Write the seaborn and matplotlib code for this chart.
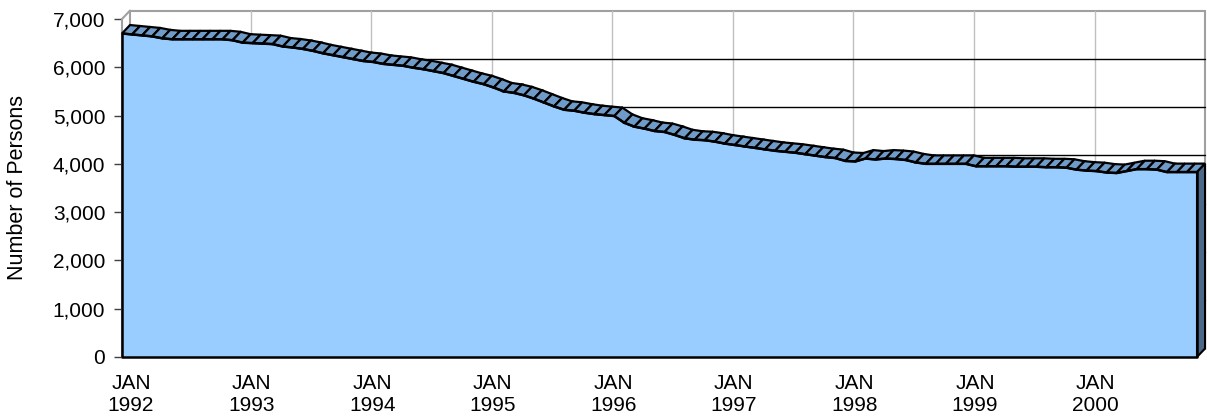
import numpy as np
import pandas as pd
import matplotlib.pyplot as plt
import seaborn as sns
from matplotlib.patches import Polygon, Rectangle

# monthly number of persons, Jan 1992 - Dec 2000
persons = [
    6700, 6680, 6660, 6640, 6600, 6580, 6580, 6580, 6580, 6580, 6580, 6560,  # 1992
    6510, 6500, 6490, 6480, 6430, 6410, 6380, 6340, 6290, 6250, 6210, 6170,  # 1993
    6130, 6110, 6070, 6050, 6030, 5990, 5960, 5920, 5880, 5820, 5760, 5700,  # 1994
    5650, 5580, 5500, 5470, 5420, 5350, 5270, 5190, 5120, 5100, 5060, 5030,  # 1995
    5010, 4990, 4850, 4770, 4730, 4680, 4660, 4600, 4530, 4500, 4490, 4460,  # 1996
    4420, 4390, 4360, 4330, 4300, 4270, 4250, 4230, 4200, 4170, 4140, 4120,  # 1997
    4060, 4050, 4110, 4090, 4110, 4100, 4080, 4030, 4000, 4000, 4000, 4000,  # 1998
    4000, 3950, 3950, 3950, 3950, 3940, 3940, 3940, 3930, 3930, 3920, 3880,  # 1999
    3860, 3850, 3820, 3810, 3850, 3890, 3890, 3880, 3830, 3830, 3830, 3830,  # 2000
]
years = [1992, 1993, 1994, 1995, 1996, 1997, 1998, 1999, 2000]
year_labels = ["JAN\n" + str(y) for y in years]
y_ticks = [0, 1000, 2000, 3000, 4000, 5000, 6000, 7000]

df = pd.DataFrame({"month": np.arange(len(persons)), "persons": persons})
n = len(persons) - 1

sns.set_style("white")
plt.rcParams["font.family"] = ["Liberation Sans", "DejaVu Sans"]
plt.rcParams["text.color"] = "black"
plt.rcParams["axes.labelcolor"] = "black"
plt.rcParams["xtick.labelcolor"] = "black"
plt.rcParams["ytick.labelcolor"] = "black"

fig = plt.figure(figsize=(12.07, 4.2), dpi=100)
ax = fig.add_axes([122 / 1207, 63 / 420, 1075 / 1207, 338 / 420])
ax.set_xlim(0, n)
ax.set_ylim(0, 7000)

# 3D depth offset (in data units)
dx, dy = 0.8, 175

# back wall with gridlines
ax.add_patch(Rectangle((dx, dy), n, 7000, facecolor="white", edgecolor="#a0a0a0",
                       lw=1.5, clip_on=False, zorder=0))
for k in range(1, len(years)):
    ax.plot([12 * k + dx] * 2, [dy, 7000 + dy], color="#c0c0c0", lw=1, clip_on=False, zorder=1)
for v in y_ticks[1:-1]:
    ax.plot([dx, n + dx], [v + dy] * 2, color="black", lw=1, clip_on=False, zorder=1)
    ax.plot([0, dx], [v, v + dy], color="black", lw=1, clip_on=False, zorder=1)
ax.plot([0, dx], [7000, 7000 + dy], color="#a0a0a0", lw=1.5, clip_on=False, zorder=1)

# front face of the area
ax.fill_between(df["month"], 0, df["persons"], color="#99ccff", lw=0, zorder=3)
sns.lineplot(data=df, x="month", y="persons", color="black", lw=1.8, ax=ax, zorder=5)
ax.plot([0, 0, n, n], [persons[0], 0, 0, persons[-1]],
        color="black", lw=1.8, clip_on=False, zorder=5)

# top ribbon (one quad per month)
for i in range(n):
    quad = [(i, persons[i]), (i + 1, persons[i + 1]),
            (i + 1 + dx, persons[i + 1] + dy), (i + dx, persons[i] + dy)]
    ax.add_patch(Polygon(quad, facecolor="#6f9bc9", edgecolor="black", lw=1.6,
                         clip_on=False, zorder=4))

# right side face
side = [(n, 0), (n, persons[-1]), (n + dx, persons[-1] + dy), (n + dx, dy)]
ax.add_patch(Polygon(side, facecolor="#4b6889", edgecolor="black", lw=1.5,
                     clip_on=False, zorder=4))

# axes styling
for s in ["top", "right", "bottom"]:
    ax.spines[s].set_visible(False)
ax.spines["left"].set_color("#a0a0a0")
ax.spines["left"].set_linewidth(1.5)
ax.spines["left"].set_zorder(2)

ax.set_yticks(y_ticks)
ax.set_yticklabels([f"{v:,}" for v in y_ticks], fontsize=15)
ax.tick_params(axis="y", length=6, width=1, color="#404040", labelcolor="black", pad=6, left=True)
ax.set_xticks([12 * k + 0.9 for k in range(len(years))])
ax.set_xticklabels(year_labels, fontsize=15, linespacing=1.2)
ax.tick_params(axis="x", length=0, pad=12, labelcolor="black")
ax.set_xlabel("")
ax.set_ylabel("Number of Persons", fontsize=15.5, labelpad=18, color="black")

fig.savefig("out.png", dpi=100)
